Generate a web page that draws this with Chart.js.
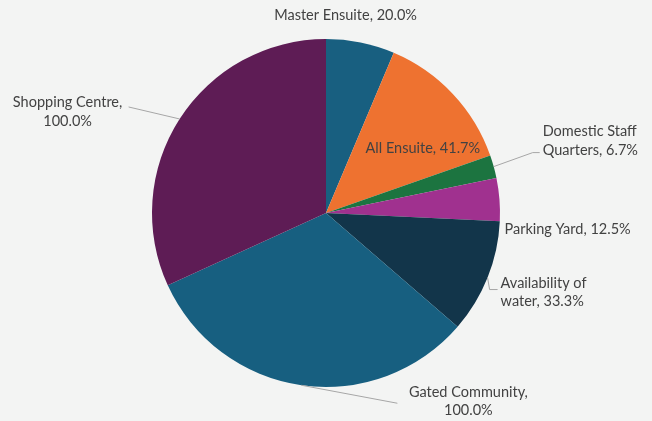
<!DOCTYPE html>
<html>
<head>
<meta charset="utf-8">
<script src="https://cdn.jsdelivr.net/npm/chart.js@4/dist/chart.umd.min.js"></script>
<style>
  html, body { margin: 0; padding: 0; background: #f3f4f3; }
  #wrap { width: 652px; height: 421px; }
</style>
</head>
<body>
<div id="wrap"><canvas id="pie" width="652" height="421"></canvas></div>
<script>
// chart data
var categories = ['Master Ensuite', 'All Ensuite', 'Domestic Staff Quarters', 'Parking Yard',
                  'Availability of water', 'Gated Community', 'Shopping Centre'];
var values = [20.0, 41.7, 6.7, 12.5, 33.3, 100.0, 100.0];
var colors = ['#185f80', '#ee7230', '#1c7440', '#a0318f', '#12354a', '#175f80', '#5e1c55'];

// where each label goes relative to the middle of its slice's outer edge
var labelLayout = [
    { dx: -15, dy: -27, align: 'center', wrap: false, line: null },
    { dx: -30, dy: 54, align: 'center', wrap: false, line: null },
    { dx: 49, dy: -26, align: 'left', wrap: 'Domestic Staff|Quarters', line: [[39, -14], [46, -14]] },
    { dx: 5, dy: 30, align: 'left', wrap: false, line: null },
    { dx: 13, dy: 15, align: 'left', wrap: 'Availability of|water', line: [[2, 12], [10, 12]] },
    { dx: 167, dy: 16, align: 'center', wrap: 'Gated Community,|', line: [[96, 18]] },
    { dx: -112, dy: -7, align: 'center', wrap: 'Shopping Centre,|', line: [[-51, -12]] }
];

function labelLines(i) {
    var pct = values[i].toFixed(1) + '%';
    var lay = labelLayout[i];
    if (!lay.wrap) return [categories[i] + ', ' + pct];
    var parts = lay.wrap.split('|');
    if (parts[1] === '') return [parts[0], pct];
    return [parts[0], parts[1] + ', ' + pct];
}

var sliceLabels = {
    id: 'sliceLabels',
    afterDatasetsDraw: function(chart) {
        var ctx = chart.ctx;
        var arcs = chart.getDatasetMeta(0).data;
        ctx.save();
        ctx.font = '14.5px Lato';
        ctx.fillStyle = '#424242';
        ctx.textBaseline = 'middle';
        arcs.forEach(function(arc, i) {
            var p = arc.getProps(['x', 'y', 'startAngle', 'endAngle', 'outerRadius'], true);
            var mid = (p.startAngle + p.endAngle) / 2;
            var ex = p.x + Math.cos(mid) * p.outerRadius;
            var ey = p.y + Math.sin(mid) * p.outerRadius;
            var lay = labelLayout[i];
            if (lay.line) {
                ctx.strokeStyle = '#a6a6a6';
                ctx.lineWidth = 1;
                ctx.beginPath();
                ctx.moveTo(ex, ey);
                lay.line.forEach(function(pt) { ctx.lineTo(ex + pt[0], ey + pt[1]); });
                ctx.stroke();
            }
            var lines = labelLines(i);
            var lh = 18.5;
            var y0 = ey + lay.dy - (lines.length - 1) * lh / 2;
            ctx.textAlign = lay.align;
            lines.forEach(function(t, k) {
                ctx.fillText(t, ex + lay.dx, y0 + k * lh);
            });
        });
        ctx.restore();
    }
};

new Chart(document.getElementById('pie').getContext('2d'), {
    type: 'pie',
    data: {
        labels: categories,
        datasets: [{
            data: values,
            backgroundColor: colors,
            borderWidth: 0
        }]
    },
    options: {
        responsive: false,
        animation: false,
        events: [],
        layout: { padding: { left: 152, right: 152, top: 39, bottom: 34 } },
        plugins: {
            legend: { display: false },
            tooltip: { enabled: false }
        }
    },
    plugins: [sliceLabels]
});
</script>
</body>
</html>
